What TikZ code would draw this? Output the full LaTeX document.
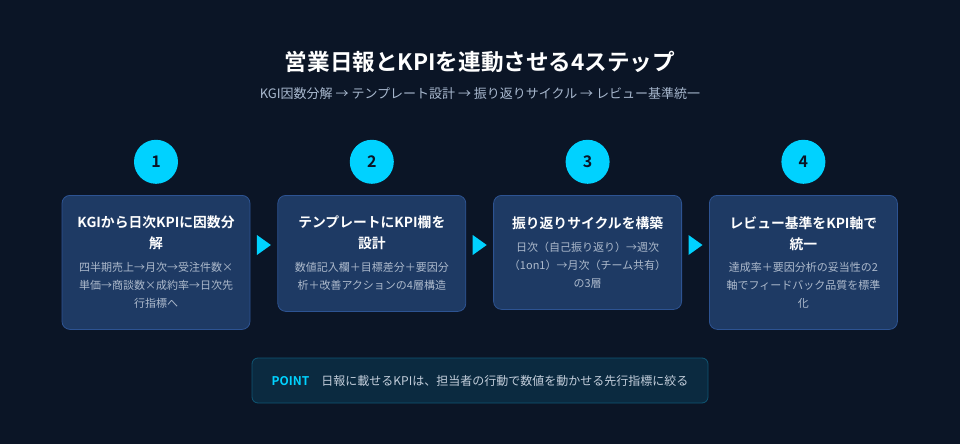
\documentclass[tikz,border=0pt]{standalone}
\usepackage{fontspec}
\setmainfont{Noto Sans CJK JP}[BoldFont={Noto Sans CJK JP Bold}]
\usetikzlibrary{positioning,calc}

\definecolor{bgnavy}{HTML}{0B1526}
\definecolor{boxfill}{HTML}{1E3A64}
\definecolor{boxline}{HTML}{2D5392}
\definecolor{accent}{HTML}{00D2FF}
\definecolor{bodygray}{HTML}{ADBACC}
\definecolor{subgray}{HTML}{A8B8CE}
\definecolor{pointfill}{HTML}{0B2A40}
\definecolor{pointline}{HTML}{0F5674}
\definecolor{pointtext}{HTML}{C3CEDB}

\begin{document}
\begin{tikzpicture}[
    x=1pt, y=-1pt,
    stepbox/.style={rectangle, draw=boxline, fill=boxfill, line width=0.8pt, rounded corners=8pt, minimum width=188pt, anchor=north},
    stepnum/.style={circle, fill=accent, minimum size=44pt, inner sep=0pt, text=bgnavy, font=\fontsize{16}{16}\selectfont\bfseries},
    steptitle/.style={align=center, inner sep=0pt, text=white, font=\fontsize{13.8}{21}\selectfont\bfseries},
    stepbody/.style={align=center, inner sep=0pt, text=bodygray, font=\fontsize{11}{18}\selectfont},
    steparrow/.style={fill=accent},
    pointbox/.style={rectangle, draw=pointline, fill=pointfill, line width=0.8pt, rounded corners=6pt, minimum width=456pt, minimum height=45pt, text=pointtext, font=\fontsize{12}{12}\selectfont}
  ]

    \fill[bgnavy] (0,0) rectangle (960,444);

    \node[text=white, font=\fontsize{22.6}{22.6}\selectfont\bfseries] (title) at (480,62) {営業日報とKPIを連動させる4ステップ};
    \node[text=subgray, font=\fontsize{13}{13}\selectfont] (subtitle) at (480,94) {KGI因数分解 → テンプレート設計 → 振り返りサイクル → レビュー基準統一};

    \node[stepbox, minimum height=134pt] (box1) at (156,195) {};
    \node[stepbox, minimum height=116pt, right=27pt of box1.north east, anchor=north west] (box2) {};
    \node[stepbox, minimum height=114pt, right=27pt of box2.north east, anchor=north west] (box3) {};
    \node[stepbox, minimum height=134pt, right=27pt of box3.north east, anchor=north west] (box4) {};

    \node[stepnum, above=11pt of box1] (num1) {1};
    \node[stepnum, above=11pt of box2] (num2) {2};
    \node[stepnum, above=11pt of box3] (num3) {3};
    \node[stepnum, above=11pt of box4] (num4) {4};

    \node[steptitle, below=21pt of box1.north] (head1) {KGIから日次KPIに因数分\\解};
    \node[stepbody, below=12pt of head1] (body1) {四半期売上→月次→受注件数×\\単価→商談数×成約率→日次先\\行指標へ};

    \node[steptitle, below=21pt of box2.north] (head2) {テンプレートにKPI欄を\\設計};
    \node[stepbody, below=12pt of head2] (body2) {数値記入欄＋目標差分＋要因分\\析＋改善アクションの4層構造};

    \node[steptitle, below=21pt of box3.north] (head3) {振り返りサイクルを構築};
    \node[stepbody, below=12pt of head3] (body3) {日次（自己振り返り）→週次\\（1on1）→月次（チーム共有）\\の3層};

    \node[steptitle, below=21pt of box4.north] (head4) {レビュー基準をKPI軸で\\統一};
    \node[stepbody, below=12pt of head4] (body4) {達成率＋要因分析の妥当性の2\\軸でフィードバック品質を標準\\化};

    % markers between the steps
    \fill[steparrow] ($(box1.north east)!0.5!(box2.north west)+(-7,40)$) -- ++(14,10) -- ++(-14,10) -- cycle;
    \fill[steparrow] ($(box2.north east)!0.5!(box3.north west)+(-7,40)$) -- ++(14,10) -- ++(-14,10) -- cycle;
    \fill[steparrow] ($(box3.north east)!0.5!(box4.north west)+(-7,40)$) -- ++(14,10) -- ++(-14,10) -- cycle;

    \node[pointbox] (point) at (480,380.5) {\textcolor{accent}{\bfseries POINT}\hspace{12pt}日報に載せるKPIは、担当者の行動で数値を動かせる先行指標に絞る};
  \end{tikzpicture}
\end{document}
